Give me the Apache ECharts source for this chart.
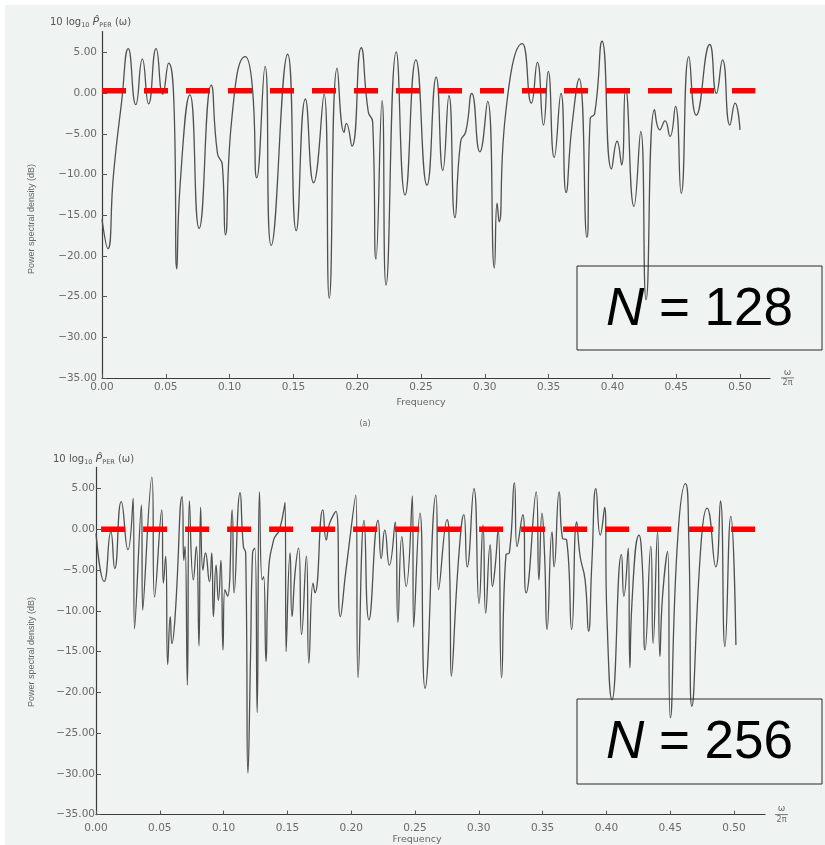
<!DOCTYPE html>
<html><head><meta charset="utf-8">
<script src="https://cdn.jsdelivr.net/npm/echarts@6/dist/echarts.min.js"></script>
<style>
html,body{margin:0;padding:0;background:#fff;}
#wrap{position:relative;width:825px;height:845px;overflow:hidden;}
#paper{position:absolute;left:5px;top:5px;width:820px;height:840px;background:#eff3f2;}
#chart{position:absolute;left:0;top:0;width:825px;height:845px;}
</style></head>
<body><div id="wrap"><div id="paper"></div><div id="chart"></div></div>
<script>
// ---- tick labels ----
const freqTicks = [0, 0.05, 0.10, 0.15, 0.20, 0.25, 0.30, 0.35, 0.40, 0.45, 0.50];
const dbTicks = [-35, -30, -25, -20, -15, -10, -5, 0, 5];

// ---- (a) N = 128 ----
const topFreq = [0, 0.0046, 0.0090, 0.0154, 0.0206, 0.0265, 0.0316, 0.0365, 0.0424, 0.0476, 0.0522, 0.0566, 0.0586, 0.0612, 0.0689, 0.0761, 0.0856, 0.0905, 0.0943, 0.0967, 0.1015, 0.1123, 0.1177, 0.1213, 0.1278, 0.1326, 0.1455, 0.1522, 0.1594, 0.1658, 0.1740, 0.1781, 0.1843, 0.1897, 0.1915, 0.1959, 0.2031, 0.2087, 0.2121, 0.2147, 0.2195, 0.2226, 0.2306, 0.2375, 0.2460, 0.2547, 0.2619, 0.2671, 0.2719, 0.2766, 0.2811, 0.2851, 0.2898, 0.2961, 0.3022, 0.3075, 0.3096, 0.3112, 0.3159, 0.3294, 0.3365, 0.3412, 0.3460, 0.3497, 0.3544, 0.3597, 0.3637, 0.3681, 0.3739, 0.3800, 0.3826, 0.3861, 0.3919, 0.3993, 0.4037, 0.4072, 0.4103, 0.4169, 0.4222, 0.4264, 0.4330, 0.4372, 0.4412, 0.4451, 0.4494, 0.4539, 0.4599, 0.4657, 0.4763, 0.4815, 0.4863, 0.4921, 0.4961, 0.5000];
const topDb = [-15.5, -19.1, -10.0, -1.0, 5.5, -1.4, 4.2, -1.3, 5.5, -0.1, 3.7, -2.3, -21.6, -11.3, -0.2, -16.6, 1.0, -7.4, -8.8, -17.4, -3.5, 4.5, 1.0, -10.4, 3.3, -18.7, 4.8, -16.9, -0.7, -11.0, -0.1, -25.2, 3.1, -4.8, -3.7, -6.5, 5.6, -2.3, -3.5, -20.4, -0.9, -23.6, 5.1, -12.5, 4.1, -11.3, 2.0, -9.5, -0.3, -15.3, -5.9, -4.7, 0.0, -7.2, -1.0, -21.5, -13.5, -15.8, -3.1, 6.1, -1.2, 3.8, -3.9, 2.7, -7.9, 0.0, -12.2, -4.3, 1.8, -17.7, -3.1, -2.5, 6.4, -9.3, -5.9, -8.8, 0.6, -13.9, -4.7, -25.4, -2.0, -4.5, -3.4, -5.3, -1.6, -12.3, 4.5, -2.7, 6.0, 0.0, 4.1, -3.9, -1.2, -4.5];

// ---- N = 256 ----
const bottomFreq = [0.0000, 0.0064, 0.0116, 0.0147, 0.0198, 0.0250, 0.0291, 0.0302, 0.0356, 0.0366, 0.0438, 0.0459, 0.0515, 0.0528, 0.0546, 0.0562, 0.0582, 0.0595, 0.0619, 0.0675, 0.0688, 0.0698, 0.0716, 0.0732, 0.0763, 0.0786, 0.0807, 0.0820, 0.0838, 0.0858, 0.0889, 0.0907, 0.0920, 0.0941, 0.0959, 0.0979, 0.0995, 0.1010, 0.1031, 0.1067, 0.1082, 0.1129, 0.1155, 0.1173, 0.1191, 0.1211, 0.1227, 0.1245, 0.1263, 0.1281, 0.1302, 0.1314, 0.1332, 0.1353, 0.1392, 0.1412, 0.1438, 0.1482, 0.1490, 0.1521, 0.1536, 0.1562, 0.1588, 0.1611, 0.1649, 0.1668, 0.1701, 0.1716, 0.1778, 0.1804, 0.1830, 0.1881, 0.1915, 0.1959, 0.2036, 0.2054, 0.2101, 0.2139, 0.2211, 0.2235, 0.2263, 0.2299, 0.2345, 0.2366, 0.2397, 0.2430, 0.2479, 0.2490, 0.2539, 0.2579, 0.2664, 0.2685, 0.2751, 0.2772, 0.2785, 0.2843, 0.2883, 0.2909, 0.2962, 0.3002, 0.3033, 0.3054, 0.3089, 0.3107, 0.3128, 0.3152, 0.3178, 0.3213, 0.3239, 0.3279, 0.3300, 0.3345, 0.3371, 0.3450, 0.3471, 0.3495, 0.3516, 0.3535, 0.3574, 0.3590, 0.3630, 0.3656, 0.3688, 0.3728, 0.3767, 0.3794, 0.3833, 0.3860, 0.3886, 0.3918, 0.3952, 0.3986, 0.4005, 0.4044, 0.4118, 0.4137, 0.4171, 0.4184, 0.4200, 0.4256, 0.4282, 0.4303, 0.4348, 0.4366, 0.4401, 0.4419, 0.4440, 0.4480, 0.4501, 0.4559, 0.4620, 0.4646, 0.4670, 0.4744, 0.4789, 0.4857, 0.4894, 0.4929, 0.4975, 0.5015];
const bottomDb = [-0.5, -6.4, -0.3, -4.8, 3.4, -2.5, 3.8, -12.2, 3.0, -9.9, 6.4, -8.3, 2.4, -6.6, -3.3, -16.6, -10.7, -14.0, -10.9, 4.0, -3.8, -2.1, -19.1, 3.5, -6.2, -2.1, -14.3, 2.7, -5.0, -2.9, -6.4, -2.9, -10.7, -4.4, -8.7, -3.8, -14.8, -7.4, -8.2, 2.4, -7.8, 4.5, -2.1, -2.9, -29.9, -15.6, -2.9, -2.3, -22.5, 4.6, -6.2, -5.8, -16.2, -5.0, -1.3, -0.7, -0.1, 3.3, -15.0, -2.9, -10.7, -5.0, -2.3, -12.9, -3.3, -16.4, -6.6, -7.8, 2.4, -1.3, 0.7, 2.2, -10.7, -5.0, 4.2, -18.2, 1.1, -11.1, 1.1, -3.6, -0.1, -4.4, 0.9, -11.4, -0.9, -7.0, 4.1, -12.0, 2.0, -19.5, 4.2, -7.4, 1.2, -5.4, -18.0, -3.3, 1.8, -4.6, 5.0, -9.1, 0.5, -10.3, -1.9, -7.0, -4.6, 0.0, -18.2, -3.1, -2.9, 5.7, -2.1, 1.8, -7.8, 4.6, -6.2, 2.0, -3.3, -12.3, -0.3, -4.6, 4.6, -1.1, -1.3, -12.3, 0.9, -3.3, -6.2, -12.5, -4.2, 5.0, -0.7, 2.7, -11.1, -20.9, -3.1, -8.2, -2.3, -17.0, -9.1, -0.7, -4.6, -14.8, -2.1, -14.0, -0.3, -15.6, -8.2, -2.7, -23.1, -1.1, 5.6, -1.3, -21.7, -1.3, 2.6, -4.6, 3.5, -14.4, 1.6, -14.2];

// ---- red 0 dB reference lines ----
const topRefFreq = [0, 0.512];
const topRefDb = 0.3;
const bottomRefFreq = [0.004, 0.5165];
const bottomRefDb = 0;

// ---- texts ----
const yName = 'Power spectral density (dB)';
const xName = 'Frequency';
const panelTag = '(a)';
const topN = '128';
const bottomN = '256';

const FONT = 'DejaVu Sans';
const LABEL_COLOR = '#6a6a6a';

function xAxisCfg(gi, max, margin, gap) {
  return {
    type: 'value', gridIndex: gi, min: 0, max: max,
    axisLine: { show: true, onZero: false, lineStyle: { color: '#3a3a3a', width: 1.2 } },
    axisTick: { show: true, inside: true, length: 4, customValues: freqTicks, lineStyle: { color: '#555' } },
    axisLabel: { customValues: freqTicks, formatter: v => v.toFixed(2), margin: margin, color: LABEL_COLOR, fontFamily: FONT, fontSize: 10.5 },
    splitLine: { show: false },
    name: '{n|ω}\n{l| }\n{d|2π}', nameLocation: 'end', nameGap: gap,
    nameTextStyle: {
      rich: {
        n: { fontSize: 9, fontFamily: FONT, color: LABEL_COLOR, width: 13, align: 'center', lineHeight: 9 },
        l: { width: 13, height: 1, lineHeight: 2, fontSize: 1, backgroundColor: '#777' },
        d: { fontSize: 8, fontFamily: FONT, color: LABEL_COLOR, width: 13, align: 'center', lineHeight: 9 }
      }
    }
  };
}
function yAxisCfg(gi, margin) {
  return {
    type: 'value', gridIndex: gi, min: -35, max: 7.6,
    axisLine: { show: true, onZero: false, lineStyle: { color: '#3a3a3a', width: 1.2 } },
    axisTick: { show: true, inside: true, length: 5, customValues: dbTicks, lineStyle: { color: '#555' } },
    axisLabel: { customValues: dbTicks, margin: margin, color: LABEL_COLOR, fontFamily: FONT, fontSize: 10.5,
      formatter: v => (v < 0 ? '\u2212' : '') + Math.abs(v).toFixed(2) },
    splitLine: { show: false }
  };
}
function curve(xi, fr, db) {
  return { type: 'line', xAxisIndex: xi, yAxisIndex: xi, data: fr.map((f, i) => [f, db[i]]),
    showSymbol: false, smooth: 0.55, lineStyle: { color: '#505050', width: 1.3 }, z: 2 };
}
function refLine(xi, fr, db) {
  return { type: 'line', xAxisIndex: xi, yAxisIndex: xi, data: fr.map(f => [f, db]),
    showSymbol: false, lineStyle: { color: '#ff0000', width: 5.5, type: [24, 18], cap: 'butt' }, z: 3 };
}
function header(x, y) {
  return { type: 'text', x: x, y: y, z: 10,
    style: { text: '{a|10 log}{s|10}{a| }{p|P\u0302}{s|PER}{a| (\u03c9)}', textVerticalAlign: 'middle',
      rich: {
        a: { fontSize: 10, fontFamily: FONT, fill: '#555', lineHeight: 14 },
        s: { fontSize: 6.5, fontFamily: FONT, fill: '#555', lineHeight: 14, padding: [6, 0, 0, 0] },
        p: { fontSize: 11, fontFamily: FONT, fontStyle: 'italic', fill: '#555', lineHeight: 14 }
      } } };
}
function nBox(x, y, w, h, num) {
  return [
    { type: 'rect', shape: { x: x, y: y, width: w, height: h }, style: { fill: 'none', stroke: '#2b2b2b', lineWidth: 1 }, z: 10 },
    { type: 'text', x: x + w / 2, y: y + h / 2 + 2, z: 11,
      style: { text: '{i|N}{r| = ' + num + '}', textAlign: 'center', textVerticalAlign: 'middle',
        rich: {
          i: { fontSize: 53, fontFamily: 'Liberation Sans', fontStyle: 'italic', fill: '#000' },
          r: { fontSize: 53, fontFamily: 'Liberation Sans', fill: '#000' }
        } } }
  ];
}
function vText(x, y, t) {
  return { type: 'text', x: x, y: y, rotation: Math.PI / 2, z: 10,
    style: { text: t, textAlign: 'center', textVerticalAlign: 'middle', font: '9px "Liberation Sans"', fill: '#666' } };
}
function hText(x, y, t, size) {
  return { type: 'text', x: x, y: y, z: 10,
    style: { text: t, textAlign: 'center', textVerticalAlign: 'middle', font: size + 'px "DejaVu Sans"', fill: '#666' } };
}

const chart = echarts.init(document.getElementById('chart'), null, { renderer: 'canvas' });
chart.setOption({
  animation: false,
  backgroundColor: 'transparent',
  grid: [
    { left: 102, top: 31.5, width: 668, height: 346.4 },
    { left: 96, top: 467.4, width: 669, height: 347.2 }
  ],
  xAxis: [xAxisCfg(0, 0.5235, 4, 11), xAxisCfg(1, 0.5243, 8, 10)],
  yAxis: [yAxisCfg(0, 5), yAxisCfg(1, 1)],
  series: [
    curve(0, topFreq, topDb),
    refLine(0, topRefFreq, topRefDb),
    curve(1, bottomFreq, bottomDb),
    refLine(1, bottomRefFreq, bottomRefDb)
  ],
  graphic: [
    header(50, 22.5),
    header(53, 459),
    vText(32, 219, yName),
    vText(32, 652, yName),
    hText(421, 403, xName, 9.5),
    hText(417, 840, xName, 9.5),
    hText(365, 424, panelTag, 8),
    ...nBox(577, 266, 245, 84, topN),
    ...nBox(577, 699, 245, 85, bottomN)
  ]
});
</script>
</body></html>
